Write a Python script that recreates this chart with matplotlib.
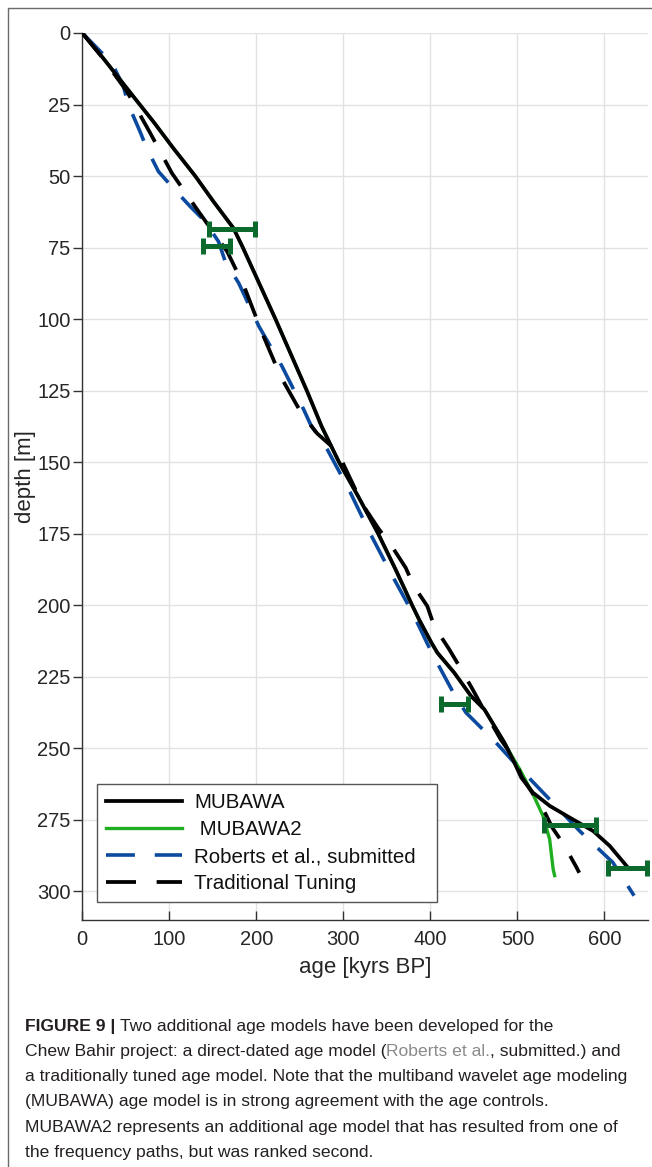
import matplotlib
matplotlib.use("Agg")
import matplotlib.pyplot as plt
from matplotlib.lines import Line2D

plt.rcParams['font.family'] = ['Liberation Sans', 'DejaVu Sans']

# ---------------- data (age kyrs BP, depth m) ----------------
mubawa_age = [0, 24, 58.7, 81.7, 104.7, 129.8, 150.7, 173.7, 184.5, 204, 222, 240, 258, 275,
              295, 318, 340, 360, 379, 387, 401, 408, 427.4, 446.6, 462, 485, 496.5, 504.3, 517.8,
              537, 560, 587, 606, 627]
mubawa_depth = [0, 8.8, 22.2, 31, 40.3, 50, 58.9, 68.2, 75, 88, 100, 112.5, 125, 137.5,
                150, 162.5, 175, 187.5, 200, 205, 213, 216.6, 223.6, 231.7, 236.4, 248, 255, 260.2, 265.5,
                270.1, 274.2, 278.9, 284.1, 291.7]

mubawa2_age = [0, 24, 58.7, 81.7, 104.7, 129.8, 150.7, 173.7, 184.5, 204, 222, 240, 258, 275,
               295, 318, 340, 360, 379, 387, 401, 408, 427.4, 446.6, 462, 485, 489, 502.5, 517.8,
               529.3, 537, 541, 542.7]
mubawa2_depth = [0, 8.8, 22.2, 31, 40.3, 50, 58.9, 68.2, 75, 88, 100, 112.5, 125, 137.5,
                 150, 162.5, 175, 187.5, 200, 205, 213, 216.6, 223.6, 231.7, 236.4, 248, 250.3, 257.3, 266,
                 273.6, 281.8, 292.2, 294.5]

roberts_age = [0, 34.2, 47.3, 53, 66.4, 74.1, 87.5, 102.9, 123.9, 141.2, 156.5, 164.2, 179.7,
               202.9, 229.5, 254.4, 262.4, 281.6, 306.4, 329.4, 354.4, 379.4, 401.5, 427.3,
               440.8, 461.9, 475.3, 492.7, 533, 571.5, 609.6, 634]
roberts_depth = [0, 10.6, 18.7, 25.1, 34.5, 40.3, 48.4, 53.7, 60.6, 65.9, 72.9, 79.8, 87.4,
                 102.5, 116.5, 131.6, 136.9, 145.6, 159.6, 174.1, 188.7, 202.6, 216.6, 231.1,
                 237.5, 243.9, 248, 253.8, 266.6, 278.9, 289.9, 301.5]

trad_age = [0, 22.3, 51.4, 78.1, 103, 133.6, 166.5, 185.6, 206.7, 227.8, 252.7, 270, 293,
            322, 341, 354.4, 371.6, 381, 396.4, 404.3, 421.6, 433.2, 448.5, 463, 481, 497,
            505, 518, 530, 540, 553, 568, 571]
trad_depth = [0, 8.3, 20.5, 35, 49, 62.4, 76.4, 88.3, 104.9, 120, 133.4, 140, 146.2,
              164.8, 173.5, 178.8, 186.9, 193.3, 200.3, 207.3, 215.4, 221.3, 229.4, 237.5, 247, 254,
              260, 266, 271.5, 277.7, 283.5, 291.7, 293.5]

# age controls (horizontal error bars)
ctrl_depth = [68.4, 74.6, 234.6, 276.9, 292.0]
ctrl_age_min = [146, 138.5, 412, 531, 604]
ctrl_age_max = [198.5, 170.2, 443.5, 590, 649]

legend_labels = ["MUBAWA", " MUBAWA2", "Roberts et al., submitted", "Traditional Tuning"]
xticks = [0, 100, 200, 300, 400, 500, 600]
yticks = [0, 25, 50, 75, 100, 125, 150, 175, 200, 225, 250, 275, 300]

# ---------------- figure ----------------
W, H = 652, 1167
fig = plt.figure(figsize=(W / 100, H / 100), dpi=100)
fig.patch.set_facecolor('white')

ax_l, ax_r, ax_t, ax_b = 82.3, 648, 33, 920
ax = fig.add_axes([ax_l / W, 1 - ax_b / H, (ax_r - ax_l) / W, (ax_b - ax_t) / H])

green = '#1fae1f'
blue = '#0b4a9e'
dkgreen = '#0c6a2c'
dash = (8, 5.5)

ax.plot(mubawa2_age, mubawa2_depth, color=green, lw=2.4, zorder=3, label=legend_labels[1])
ax.plot(roberts_age, roberts_depth, color=blue, lw=2.6, ls=(0, dash), zorder=4, label=legend_labels[2])
ax.plot(trad_age, trad_depth, color='black', lw=2.7, ls=(0, dash), zorder=5, label=legend_labels[3])
ax.plot(mubawa_age, mubawa_depth, color='black', lw=2.7, zorder=6, label=legend_labels[0])

c = [(a + b) / 2 for a, b in zip(ctrl_age_min, ctrl_age_max)]
err = [[ci - a for ci, a in zip(c, ctrl_age_min)], [b - ci for ci, b in zip(c, ctrl_age_max)]]
ax.errorbar(c, ctrl_depth, xerr=err, fmt='none', ecolor=dkgreen, elinewidth=3.6,
            capsize=6, capthick=3.6, zorder=7, clip_on=False)

ax.set_xlim(0, 650)
ax.set_ylim(310, 0)
ax.set_xticks(xticks)
ax.set_yticks(yticks)
ax.grid(True, color='#e2e2e2', lw=1.0)
ax.set_axisbelow(True)
for s in ['top', 'right']:
    ax.spines[s].set_visible(False)
for s in ['left', 'bottom']:
    ax.spines[s].set_color('#333333')
    ax.spines[s].set_linewidth(1.0)

ax.tick_params(axis='x', direction='in', length=6.5, width=1, color='#333333',
               labelsize=14.5, labelcolor='#262626', pad=7)
ax.tick_params(axis='y', direction='out', length=6.5, width=1, color='#333333',
               labelsize=14.5, labelcolor='#262626', pad=2)
ax.set_xlabel('age [kyrs BP]', fontsize=16, color='#262626', labelpad=6)
ax.set_ylabel('depth [m]', fontsize=16, color='#262626', labelpad=1)

handles, labels = ax.get_legend_handles_labels()
order = [labels.index(l) for l in legend_labels]
leg = ax.legend([handles[i] for i in order], [labels[i] for i in order],
                loc='lower left', bbox_to_anchor=((97 - ax_l) / (ax_r - ax_l), (ax_b - 902) / (ax_b - ax_t),
                                                  (437 - 97) / (ax_r - ax_l), (902 - 783) / (ax_b - ax_t)),
                mode='expand', borderaxespad=0, fontsize=14.8, handlelength=3.7,
                handletextpad=0.6, labelspacing=0.4, borderpad=0.42, fancybox=False,
                framealpha=1, edgecolor='#555555')
leg.get_frame().set_linewidth(1.0)
for t in leg.get_texts():
    t.set_color('#111111')

# figure frame (top and left)
fx = 7.5 / W
fy = 1 - 8.3 / H
fig.add_artist(Line2D([fx, fx, 1.0], [0.0, fy, fy], transform=fig.transFigure,
                      color='#6a6a6a', lw=1.0))

# ---------------- caption ----------------
cap_size = 12.6
cap_col = '#231f20'
gray = '#8a8a8a'
renderer = fig.canvas.get_renderer()


def width_px(s, **kw):
    t = fig.text(0, 0, s, fontsize=cap_size, **kw)
    w = t.get_window_extent(renderer).width
    t.remove()
    return w


space_w = width_px('x x') - width_px('xx')


def draw_line(x_px, base_px, pieces):
    x = x_px
    for txt, kw, gap in pieces:
        x += gap
        t = fig.text(x / W, 1 - base_px / H, txt, fontsize=cap_size, va='baseline', ha='left', **kw)
        x += t.get_window_extent(renderer).width


x0 = 25
bases = [1031, 1056, 1081, 1106, 1132, 1157]
draw_line(x0, bases[0], [("FIGURE 9 |", dict(color=cap_col, fontweight='bold'), 0),
                         ("Two additional age models have been developed for the", dict(color=cap_col), space_w)])
draw_line(x0, bases[1], [("Chew Bahir project: a direct-dated age model (", dict(color=cap_col), 0),
                         ("Roberts et al.", dict(color=gray), 0),
                         (", submitted.) and", dict(color=cap_col), 0)])
draw_line(x0, bases[2], [("a traditionally tuned age model. Note that the multiband wavelet age modeling",
                          dict(color=cap_col), 0)])
draw_line(x0, bases[3], [("(MUBAWA) age model is in strong agreement with the age controls.",
                          dict(color=cap_col), 0)])
draw_line(x0, bases[4], [("MUBAWA2 represents an additional age model that has resulted from one of",
                          dict(color=cap_col), 0)])
draw_line(x0, bases[5], [("the frequency paths, but was ranked second.", dict(color=cap_col), 0)])

fig.savefig('out.png', dpi=100, facecolor='white')
